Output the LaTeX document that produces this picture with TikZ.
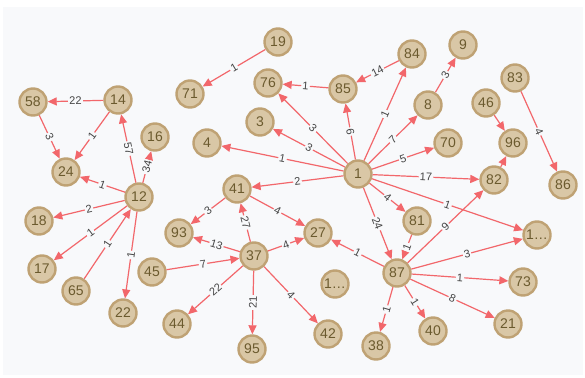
\documentclass[tikz,border=0pt]{standalone}
\usepackage{fontspec}
\setmainfont{Liberation Sans}
\usetikzlibrary{arrows.meta}
\definecolor{bgc}{HTML}{F8F9FB}
\definecolor{nodefill}{HTML}{D9C7A6}
\definecolor{nodeborder}{HTML}{BFA274}
\definecolor{nodetext}{HTML}{6B5A2E}
\definecolor{edgec}{HTML}{F2676B}
\definecolor{labelc}{HTML}{444444}
\tikzset{
  gnode/.style={circle, minimum size=27pt, inner sep=0pt, draw=nodeborder, line width=2.4pt, fill=nodefill, text=nodetext, font=\fontsize{14}{14}\selectfont},
  gedge/.style={draw=edgec, line width=1.2pt, -{Triangle[length=9pt,width=8pt]}},
  elab/.style={midway, sloped, font=\fontsize{11}{11}\selectfont, text=labelc, fill=bgc, inner sep=1.2pt}
}
\begin{document}
\begin{tikzpicture}[x=1pt,y=-1pt]
\useasboundingbox (0,0) rectangle (585,377);
\fill[white] (0,0) rectangle (585,377);
\fill[bgc] (3,7) rectangle (583,375);
% nodes
\node[gnode] (n19) at (278,42) {19};
\node[gnode] (n71) at (190,94) {71};
\node[gnode] (n76) at (268,83) {76};
\node[gnode] (n3) at (260,122) {3};
\node[gnode] (n4) at (207,143) {4};
\node[gnode] (n58) at (33,102) {58};
\node[gnode] (n14) at (118,100) {14};
\node[gnode] (n16) at (155,137) {16};
\node[gnode] (n24) at (66,172) {24};
\node[gnode] (n12) at (139,197) {12};
\node[gnode] (n41) at (237,189) {41};
\node[gnode] (n85) at (343,89) {85};
\node[gnode] (n84) at (412,54) {84};
\node[gnode] (n9) at (463,45) {9};
\node[gnode] (n8) at (428,105) {8};
\node[gnode] (n83) at (515,78) {83};
\node[gnode] (n46) at (486,103) {46};
\node[gnode] (n96) at (513,143) {96};
\node[gnode] (n70) at (448,143) {70};
\node[gnode] (n1) at (358,174) {1};
\node[gnode] (n82) at (494,180) {82};
\node[gnode] (n86) at (563,185) {86};
\node[gnode] (n81) at (417,221) {81};
\node[gnode] (nRa) at (537,235) {1…};
\node[gnode] (n27) at (318,233) {27};
\node[gnode] (n87) at (397,273) {87};
\node[gnode] (n73) at (523,282) {73};
\node[gnode] (nMa) at (335,284) {1…};
\node[gnode] (n42) at (328,334) {42};
\node[gnode] (n38) at (376,346) {38};
\node[gnode] (n40) at (433,331) {40};
\node[gnode] (n21) at (508,324) {21};
\node[gnode] (n93) at (179,233) {93};
\node[gnode] (n37) at (254,256) {37};
\node[gnode] (n45) at (152,272) {45};
\node[gnode] (n18) at (39,221) {18};
\node[gnode] (n17) at (42,269) {17};
\node[gnode] (n65) at (76,291) {65};
\node[gnode] (n22) at (123,313) {22};
\node[gnode] (n44) at (177,324) {44};
\node[gnode] (n95) at (252,349) {95};
% edges
\draw[gedge] (n19) -- node[elab] {1} (n71);
\draw[gedge] (n14) -- node[elab] {22} (n58);
\draw[gedge] (n58) -- node[elab] {3} (n24);
\draw[gedge] (n14) -- node[elab] {1} (n24);
\draw[gedge] (n12) -- node[elab] {57} (n14);
\draw[gedge] (n12) -- node[elab] {34} (n16);
\draw[gedge] (n12) -- node[elab] {1} (n24);
\draw[gedge] (n12) -- node[elab] {2} (n18);
\draw[gedge] (n12) -- node[elab] {1} (n17);
\draw[gedge] (n65) -- node[elab] {1} (n12);
\draw[gedge] (n12) -- node[elab] {1} (n22);
\draw[gedge] (n1) -- node[elab] {1} (n4);
\draw[gedge] (n1) -- node[elab] {3} (n3);
\draw[gedge] (n1) -- node[elab] {3} (n76);
\draw[gedge] (n85) -- node[elab] {1} (n76);
\draw[gedge] (n84) -- node[elab] {14} (n85);
\draw[gedge] (n1) -- node[elab] {6} (n85);
\draw[gedge] (n1) -- node[elab] {1} (n84);
\draw[gedge] (n1) -- node[elab] {7} (n8);
\draw[gedge] (n8) -- node[elab] {3} (n9);
\draw[gedge] (n1) -- node[elab] {5} (n70);
\draw[gedge] (n46) -- (n96);
\draw[gedge] (n82) -- (n96);
\draw[gedge] (n83) -- node[elab] {4} (n86);
\draw[gedge] (n1) -- node[elab] {17} (n82);
\draw[gedge] (n1) -- node[elab] {1} (nRa);
\draw[gedge] (n1) -- node[elab] {2} (n41);
\draw[gedge] (n1) -- node[elab] {4} (n81);
\draw[gedge] (n1) -- node[elab] {24} (n87);
\draw[gedge] (n81) -- node[elab] {1} (n87);
\draw[gedge] (n87) -- node[elab] {9} (n82);
\draw[gedge] (n87) -- node[elab] {3} (nRa);
\draw[gedge] (n87) -- node[elab] {1} (n73);
\draw[gedge] (n87) -- node[elab] {8} (n21);
\draw[gedge] (n87) -- node[elab] {1} (n40);
\draw[gedge] (n87) -- node[elab] {1} (n38);
\draw[gedge] (n87) -- node[elab] {1} (n27);
\draw[gedge] (n41) -- node[elab] {3} (n93);
\draw[gedge] (n37) -- node[elab] {27} (n41);
\draw[gedge] (n41) -- node[elab] {4} (n27);
\draw[gedge] (n37) -- node[elab] {4} (n27);
\draw[gedge] (n37) -- node[elab] {13} (n93);
\draw[gedge] (n45) -- node[elab] {7} (n37);
\draw[gedge] (n37) -- node[elab] {22} (n44);
\draw[gedge] (n37) -- node[elab] {21} (n95);
\draw[gedge] (n37) -- node[elab] {4} (n42);
\end{tikzpicture}
\end{document}
